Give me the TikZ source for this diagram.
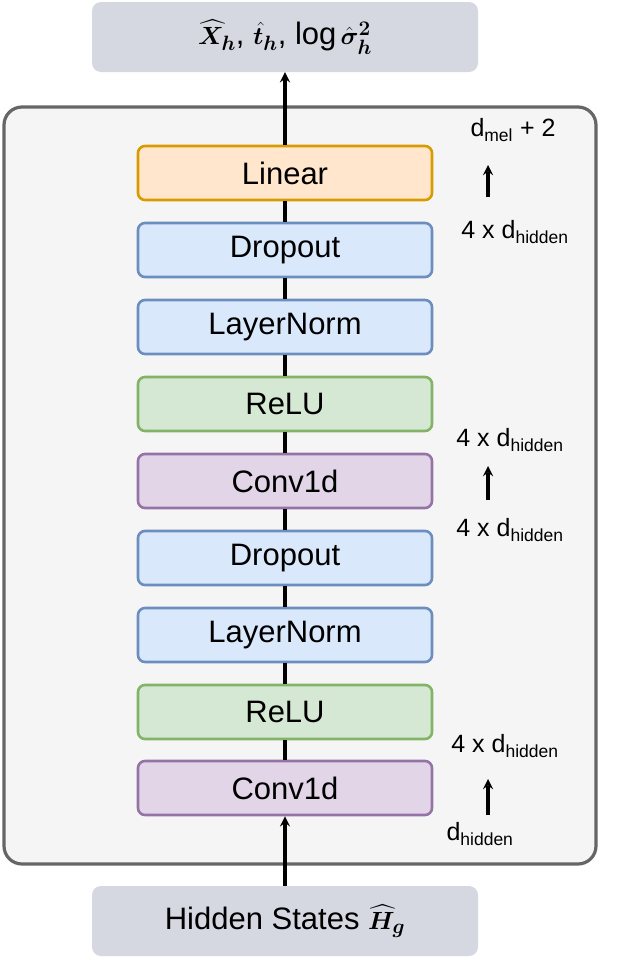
\documentclass[tikz,border=0pt]{standalone}
\usepackage{fontspec}
\setmainfont{Liberation Sans}
\usepackage{amsmath}
\usepackage{bm}
\usepackage{tikz}
\usetikzlibrary{positioning}
\definecolor{io_gray}{HTML}{D5D8E0}
\definecolor{frame_gray}{HTML}{666666}
\definecolor{lin_fill}{HTML}{FFE6CC}
\definecolor{lin_draw}{HTML}{D79B00}
\definecolor{blue_fill}{HTML}{DAE8FC}
\definecolor{blue_draw}{HTML}{6C8EBF}
\definecolor{green_fill}{HTML}{D5E8D4}
\definecolor{green_draw}{HTML}{82B366}
\definecolor{purple_fill}{HTML}{E1D5E7}
\definecolor{purple_draw}{HTML}{9673A6}

\tikzset{
  layer/.style={rounded corners=7pt, line width=2.6pt, minimum width=294pt, minimum height=54pt, font=\fontsize{31}{34}\selectfont, inner sep=0pt},
  lin/.style={layer, fill=lin_fill, draw=lin_draw},
  drop/.style={layer, fill=blue_fill, draw=blue_draw},
  relu/.style={layer, fill=green_fill, draw=green_draw},
  conv/.style={layer, fill=purple_fill, draw=purple_draw},
  iobox/.style={rounded corners=9pt, fill=io_gray, minimum width=386pt, minimum height=70pt, font=\fontsize{31}{34}\selectfont, inner sep=0pt},
  dimlabel/.style={font=\fontsize{25}{28}\selectfont, inner sep=0pt},
  flow/.style={line width=3.4pt},
}

\begin{document}
\begin{tikzpicture}[x=1pt,y=-1pt,>=stealth]

    \useasboundingbox (0,0) rectangle (622,964);

    % cadre du bloc
    \draw[fill=black!4, draw=frame_gray, line width=3.2pt, rounded corners=18pt] (4,107) rectangle (596,864);

    % entrée et sortie
    \node[iobox] (out) at (285,37) {$\bm{\widehat{X}_h}$, $\bm{\hat{t}_h}$, $\log\bm{\hat{\sigma}_h^2}$};
    \node[iobox] (in) at (285,921) {Hidden States $\bm{\widehat{H}_g}$};

    % couches
    \node[lin]  (linear) at (285,173) {Linear};
    \node[drop] (drop2)  at (285,250) {Dropout};
    \node[drop] (norm2)  at (285,327) {LayerNorm};
    \node[relu] (relu2)  at (285,404) {ReLU};
    \node[conv] (conv2)  at (285,481) {Conv1d};
    \node[drop] (drop1)  at (285,558) {Dropout};
    \node[drop] (norm1)  at (285,635) {LayerNorm};
    \node[relu] (relu1)  at (285,712) {ReLU};
    \node[conv] (conv1)  at (285,788) {Conv1d};

    % flux central
    \draw[->,flow] (in) -- (conv1);
    \draw[flow] (conv1) -- (relu1);
    \draw[flow] (relu1) -- (norm1);
    \draw[flow] (norm1) -- (drop1);
    \draw[flow] (drop1) -- (conv2);
    \draw[flow] (conv2) -- (relu2);
    \draw[flow] (relu2) -- (norm2);
    \draw[flow] (norm2) -- (drop2);
    \draw[flow] (drop2) -- (linear);
    \draw[->,flow] (linear) -- (out);

    % dimensions
    \node[dimlabel] (dmel) at (513,130) {d\textsubscript{mel} + 2};
    \node[dimlabel] (dh4) at (515,232) {4 x d\textsubscript{hidden}};
    \draw[->,flow] (488,197) -- (488,165);

    \node[dimlabel] (dh3) at (510,440) {4 x d\textsubscript{hidden}};
    \node[dimlabel] (dh2) at (510,530) {4 x d\textsubscript{hidden}};
    \draw[->,flow] (488,500) -- (488,466);

    \node[dimlabel] (dh1) at (505,746) {4 x d\textsubscript{hidden}};
    \node[dimlabel] (dh0) at (480,834) {d\textsubscript{hidden}};
    \draw[->,flow] (488,815) -- (488,779);
\end{tikzpicture}
\end{document}
